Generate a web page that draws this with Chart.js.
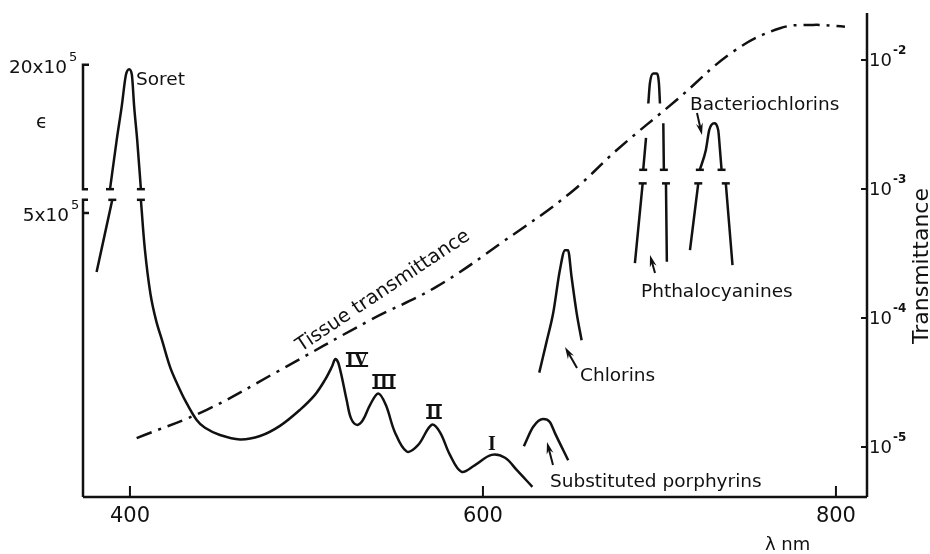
<!DOCTYPE html>
<html>
<head>
<meta charset="utf-8">
<script src="https://cdn.jsdelivr.net/npm/chart.js@4"></script>
<style>
  body { margin:0; background:#fff; }
  canvas { display:block; }
</style>
</head>
<body>
<canvas id="spectrum" width="930" height="554"></canvas>
<script>
const ink = '#111'

// absorption curves: wavelength (nm) and epsilon in drawing units (broken axis, 0..100)
const soretTopWl = [388.7, 392.5, 395.3, 397.7, 399.6, 401.1, 402.4, 404.1, 406.2]
const soretTopEps = [63.6, 73.8, 80.6, 87.2, 88.4, 87.2, 80.6, 73.8, 63.6]

const soretLeftWl = [381.1, 390]
const soretLeftEps = [46.5, 61.4]

const porphyrinWl = [406.2, 408.5, 411.6, 414.8, 418.5, 422.7, 426.5, 431.5, 437.8, 442.5, 451, 462.3, 473.7, 485, 496.3, 504.8, 510.5, 514.4, 516.4, 518.4, 522.8, 525.2, 528.6, 532, 536, 540.7, 545, 550.1, 556.8, 563.2, 570.9, 575.6, 581.3, 587.9, 595.5, 604.9, 612.5, 619.1, 628]
const porphyrinEps = [61.4, 51.0, 42.0, 36.5, 32.0, 26.9, 23.6, 19.8, 15.9, 14.3, 12.8, 11.9, 12.6, 14.7, 18.0, 21.1, 24.2, 26.9, 28.5, 27.3, 20.0, 16.3, 14.9, 15.9, 19.0, 21.4, 19.0, 13.4, 9.4, 10.7, 14.9, 13.4, 8.7, 5.2, 6.6, 8.7, 8.1, 5.6, 2.1]

const substWl = [623.2, 628.5, 634.1, 637.9, 640.8, 648.3]
const substEps = [10.5, 14.5, 16.1, 15.5, 13.2, 7.6]

const chlorinWl = [631.9, 636, 639.8, 643.6, 646.5, 648.2, 650.2, 653.1, 655.9]
const chlorinEps = [25.7, 32, 38.0, 46.9, 51.0, 51.0, 45.5, 38.0, 32.4]

const phthaloTopWl = [690.8, 692.4, 693, 693.7, 694.6, 696.5, 698.4, 699.7, 700.3, 701, 702.2, 702.5]
const phthaloTopEps = [67.6, 74.2, null, 81.3, 85.5, 87.5, 87.5, 85.5, 81.3, null, 77.2, 67.6]
const phthaloLowWl = [686.1, 690.5, 697, 703.7, 704.2]
const phthaloLowEps = [48.3, 64.8, null, 64.8, 48.6]

const bacterioTopWl = [722.9, 726.3, 728.2, 731.0, 733.3, 734.3, 735.2]
const bacterioTopEps = [67.6, 71.7, 75.8, 77.2, 75.8, 71.7, 67.6]
const bacterioLowWl = [717.3, 722, 730, 737.6, 741.4]
const bacterioLowEps = [51.0, 64.8, null, 64.8, 47.9]

// break marks on the cut curves
const breakWl = [388.7, 406.2, 390, 406.2, 690.8, 702.5, 690.5, 703.7, 722.9, 735.2, 722, 737.6]
const breakEps = [63.6, 63.6, 61.4, 61.4, 67.6, 67.6, 64.8, 64.8, 67.6, 67.6, 64.8, 64.8]

// tissue transmittance (right, log axis)
const tissueWl = [403.8, 443.5, 483.1, 536, 573.8, 611.5, 649.3, 676.5, 709.7, 741.8, 768.3, 787, 805.1]
const tissueT = [1.17e-5, 1.94e-5, 3.81e-5, 9.6e-5, 1.75e-4, 3.91e-4, 9.27e-4, 2.04e-3, 4.89e-3, 1.16e-2, 1.76e-2, 1.87e-2, 1.81e-2]

// axes
const wlTicks = [400, 600, 800]
const tTicks = [1e-5, 1e-4, 1e-3, 1e-2]
const tTickExp = ['-5', '-4', '-3', '-2']
const epsTicks = [89.3, 58.7]
const epsTickLabels = ['20x10', '5x10']
const epsAxisTop = 89.3
const epsBreakHi = 63.6
const epsBreakLo = 61.4

function pts(wl, vals) {
  return wl.map((w, i) => ({ x: w, y: vals[i] }))
}

const curveStyle = {
  borderColor: ink,
  borderWidth: 2.5,
  pointRadius: 0,
  fill: false,
  cubicInterpolationMode: 'monotone',
  spanGaps: false,
  yAxisID: 'yE'
}

function arrow(ctx, x0, y0, x1, y1) {
  const a = Math.atan2(y1 - y0, x1 - x0)
  const c = Math.cos(a), s = Math.sin(a)
  ctx.lineWidth = 2
  ctx.beginPath()
  ctx.moveTo(x0, y0)
  ctx.lineTo(x1 - 7 * c, y1 - 7 * s)
  ctx.stroke()
  ctx.beginPath()
  ctx.moveTo(x1, y1)
  ctx.lineTo(x1 - 12 * c + 3.5 * s, y1 - 12 * s - 3.5 * c)
  ctx.lineTo(x1 - 8 * c, y1 - 8 * s)
  ctx.lineTo(x1 - 12 * c - 3.5 * s, y1 - 12 * s + 3.5 * c)
  ctx.closePath()
  ctx.fill()
}

function roman(ctx, text, cx, base, bars) {
  ctx.font = 'bold 20px "Liberation Serif"'
  ctx.textAlign = 'center'
  ctx.textBaseline = 'alphabetic'
  ctx.fillText(text, cx, base)
  if (bars) {
    const w = ctx.measureText(text).width
    ctx.lineWidth = 2
    ctx.beginPath()
    ctx.moveTo(cx - w / 2, base - 13)
    ctx.lineTo(cx + w / 2, base - 13)
    ctx.moveTo(cx - w / 2, base)
    ctx.lineTo(cx + w / 2, base)
    ctx.stroke()
  }
}

const decor = {
  id: 'decor',
  beforeDraw(chart) {
    const ctx = chart.ctx
    ctx.save()
    ctx.fillStyle = '#fff'
    ctx.fillRect(0, 0, chart.width, chart.height)
    ctx.restore()
  },
  afterDraw(chart) {
    const ctx = chart.ctx
    const xs = chart.scales.x, ye = chart.scales.yE, yt = chart.scales.yT
    const { left, right, bottom, top } = chart.chartArea
    ctx.save()
    ctx.strokeStyle = ink
    ctx.fillStyle = ink
    ctx.lineCap = 'butt'

    // x axis and right axis
    ctx.lineWidth = 2.5
    ctx.beginPath()
    ctx.moveTo(left, bottom)
    ctx.lineTo(right, bottom)
    ctx.moveTo(right, top)
    ctx.lineTo(right, bottom)
    ctx.stroke()

    // broken epsilon axis
    const a0 = ye.getPixelForValue(epsAxisTop)
    const a1 = ye.getPixelForValue(epsBreakHi)
    const a2 = ye.getPixelForValue(epsBreakLo)
    ctx.beginPath()
    ctx.moveTo(left + 6, a0)
    ctx.lineTo(left, a0)
    ctx.lineTo(left, a1)
    ctx.lineTo(left + 5, a1)
    ctx.moveTo(left + 5, a2)
    ctx.lineTo(left, a2)
    ctx.lineTo(left, bottom)
    ctx.moveTo(left, ye.getPixelForValue(epsTicks[1]))
    ctx.lineTo(left + 6, ye.getPixelForValue(epsTicks[1]))
    ctx.stroke()

    // inward ticks
    ctx.lineWidth = 2
    ctx.beginPath()
    wlTicks.forEach(v => {
      const x = xs.getPixelForValue(v)
      ctx.moveTo(x, bottom)
      ctx.lineTo(x, bottom - 11)
    })
    tTicks.forEach(v => {
      const y = yt.getPixelForValue(v)
      ctx.moveTo(right, y)
      ctx.lineTo(right - 6, y)
    })
    ctx.stroke()

    // tick labels
    ctx.font = '21px "DejaVu Sans"'
    ctx.textAlign = 'center'
    ctx.textBaseline = 'alphabetic'
    wlTicks.forEach(v => ctx.fillText(String(v), xs.getPixelForValue(v), bottom + 25))

    tTicks.forEach((v, i) => {
      const y = yt.getPixelForValue(v)
      ctx.textAlign = 'left'
      ctx.font = '18px "DejaVu Sans"'
      ctx.fillText('10', right + 2, y + 6)
      const w = ctx.measureText('10').width
      ctx.font = 'bold 12px "DejaVu Sans"'
      ctx.fillText(tTickExp[i], right + 3 + w, y - 6)
    })

    epsTicks.forEach((v, i) => {
      const y = ye.getPixelForValue(v)
      ctx.textAlign = 'right'
      ctx.font = '18.5px "DejaVu Sans"'
      ctx.fillText(epsTickLabels[i], i === 0 ? 67 : 69, y + 8)
      ctx.textAlign = 'left'
      ctx.font = '13px "DejaVu Sans"'
      ctx.fillText('5', i === 0 ? 69 : 71, y - 4)
    })

    ctx.font = '19px "DejaVu Sans"'
    ctx.textAlign = 'left'
    ctx.fillText('\u03f5', 36, 128)

    ctx.font = '18px "DejaVu Sans"'
    ctx.fillText('\u03bb nm', 765, 550)

    ctx.save()
    ctx.translate(928, 266)
    ctx.rotate(-Math.PI / 2)
    ctx.textAlign = 'center'
    ctx.font = '22px "DejaVu Sans"'
    ctx.fillText('Transmittance', 0, 0)
    ctx.restore()

    // curve labels
    ctx.font = '18.5px "DejaVu Sans"'
    ctx.textAlign = 'left'
    ctx.fillText('Soret', 136, 85)
    ctx.fillText('Bacteriochlorins', 690, 110)
    ctx.fillText('Phthalocyanines', 641, 297)
    ctx.fillText('Chlorins', 580, 381)
    ctx.fillText('Substituted porphyrins', 550, 487)

    ctx.save()
    ctx.translate(301, 352)
    ctx.rotate(-33.7 * Math.PI / 180)
    ctx.font = '19.5px "DejaVu Sans"'
    ctx.fillText('Tissue transmittance', 0, 0)
    ctx.restore()

    roman(ctx, 'IV', 357, 366, true)
    roman(ctx, 'III', 384, 388, true)
    roman(ctx, 'II', 434, 418, true)
    roman(ctx, 'I', 492, 450, false)

    arrow(ctx, 577, 368, 565, 347)
    arrow(ctx, 553, 465, 547, 442)
    arrow(ctx, 655, 273, 650, 255)
    arrow(ctx, 697, 113, 702, 135)

    ctx.restore()
  }
}

new Chart(document.getElementById('spectrum'), {
  type: 'line',
  data: {
    datasets: [
      { ...curveStyle, data: pts(soretTopWl, soretTopEps) },
      { ...curveStyle, data: pts(soretLeftWl, soretLeftEps) },
      { ...curveStyle, data: pts(porphyrinWl, porphyrinEps), cubicInterpolationMode: 'default', tension: 0.35 },
      { ...curveStyle, data: pts(substWl, substEps) },
      { ...curveStyle, data: pts(chlorinWl, chlorinEps) },
      { ...curveStyle, data: pts(phthaloTopWl, phthaloTopEps) },
      { ...curveStyle, data: pts(phthaloLowWl, phthaloLowEps) },
      { ...curveStyle, data: pts(bacterioTopWl, bacterioTopEps) },
      { ...curveStyle, data: pts(bacterioLowWl, bacterioLowEps) },
      {
        data: pts(breakWl, breakEps),
        yAxisID: 'yE',
        showLine: false,
        pointStyle: 'line',
        pointRadius: 4,
        pointBorderWidth: 2.5,
        borderColor: ink,
        pointBorderColor: ink
      },
      {
        data: pts(tissueWl, tissueT),
        yAxisID: 'yT',
        borderColor: ink,
        borderWidth: 2.5,
        borderDash: [16, 7, 3, 7],
        pointRadius: 0,
        fill: false,
        tension: 0.4
      }
    ]
  },
  options: {
    responsive: false,
    animation: false,
    devicePixelRatio: 1,
    layout: { padding: { left: 83, right: 63, top: 13, bottom: 57 } },
    plugins: { legend: { display: false }, tooltip: { enabled: false } },
    scales: {
      x: { type: 'linear', min: 373.4, max: 817.6, display: false },
      yE: { type: 'linear', position: 'left', min: 0, max: 100, display: false },
      yT: { type: 'logarithmic', position: 'right', min: Math.pow(10, -5.388), max: Math.pow(10, -1.636), display: false }
    }
  },
  plugins: [decor]
})
</script>
</body>
</html>
